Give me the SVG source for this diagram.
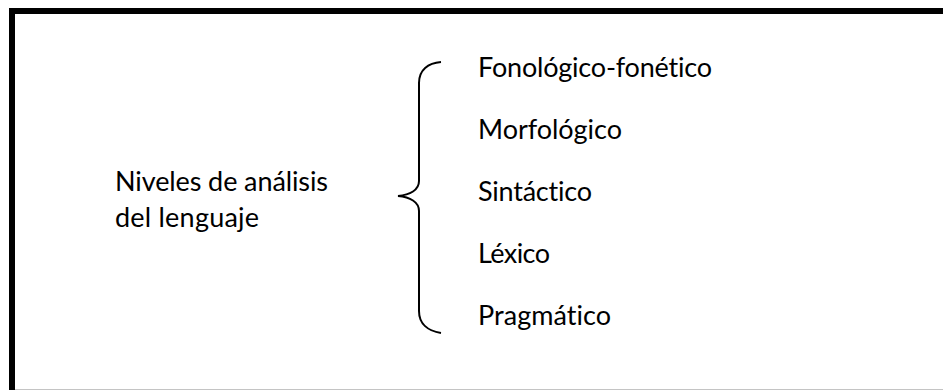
<svg xmlns="http://www.w3.org/2000/svg" width="943" height="390" viewBox="0 0 943 390">
<style>
.t{font-family:Lato,"Open Sans","Liberation Sans",sans-serif;font-size:27px;fill:#000;font-variant-ligatures:none}
.br{fill:none;stroke:#000;stroke-width:2}
</style>
<rect width="943" height="390" fill="#fff"/>
<g id="frame">
<path d="M12 390 V11 H943" fill="none" stroke="#000" stroke-width="6"/>
<line x1="15" y1="389.5" x2="943" y2="389.5" stroke="#c4c4c4" stroke-width="1"/>
</g>
<g id="root"><text class="t" x="115" y="191" textLength="213">Niveles de análisis</text><text class="t" x="115" y="227" textLength="144">del lenguaje</text></g>
<g id="connectors"><path class="br" d="M441 62 C428 63 419 70 419 83 V181 C419 190 410 195 398 196 C410 197 419 202 419 211 V311 C419 324 428 331 441 333"/></g>
<g id="n1"><text class="t" x="478" y="77" textLength="234">Fonológico-fonético</text></g>
<g id="n2"><text class="t" x="478" y="139" textLength="144">Morfológico</text></g>
<g id="n3"><text class="t" x="478" y="201" textLength="114">Sintáctico</text></g>
<g id="n4"><text class="t" x="478" y="263" textLength="72">Léxico</text></g>
<g id="n5"><text class="t" x="478" y="325" textLength="133">Pragmático</text></g>
</svg>
